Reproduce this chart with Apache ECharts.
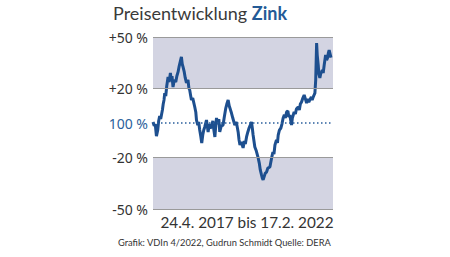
<!DOCTYPE html>
<html>
<head>
<meta charset="utf-8">
<script src="https://cdn.jsdelivr.net/npm/echarts@6/dist/echarts.min.js"></script>
<style>html,body{margin:0;padding:0;background:#fff}#c{width:450px;height:257px}</style>
</head>
<body>
<div id="c"></div>
<script>
// Days since 24.4.2017 (x) and price change in % (y)
const days = [0,12,22,34,47,56,66,76,93,101,109,116,126,136,149,160,172,180,188,198,210,225,236,248,259,269,281,289,297,309,319,331,346,355,363,373,380,393,413,423,430,443,452,462,472,482,492,502,512,529,537,545,556,566,578,592,602,612,621,628,643,651,660,675,693,705,720,730,743,754,764,776,789,809,824,842,851,860,873,891,903,913,925,938,950,962,974,982,990,997,1007,1022,1040,1051,1061,1073,1081,1089,1101,1111,1123,1136,1156,1173,1186,1196,1206,1221,1231,1238,1250,1265,1275,1287,1299,1309,1321,1334,1343,1353,1363,1370,1378,1396,1408,1418,1436,1447,1457,1469,1482,1495,1507,1519,1532,1541,1551,1566,1574,1584,1593,1601,1609,1618,1624,1634,1640,1650,1658,1667,1675,1683,1693,1700,1707,1717,1726,1734,1742,1760];
const change = [0.6,-1.7,-0.6,-7.6,-4.1,1.2,4.1,2.3,7.6,11.0,13.4,17.4,15.7,21.5,26.7,23.8,29.1,25.0,27.3,20.9,25.0,23.8,27.3,29.7,33.1,35.5,38.4,34.3,32.6,29.7,26.2,23.3,25.0,20.3,19.2,15.7,13.4,14.5,9.3,6.4,1.7,-1.2,0.6,-4.1,-7.6,-11.6,-7.0,-4.1,-2.3,1.7,-1.7,-5.2,-0.6,-2.9,-2.3,1.2,-4.1,-8.1,-1.2,2.9,-0.6,2.3,-5.2,-1.7,-1.2,3.5,8.7,11.0,13.4,9.9,8.1,5.8,2.9,-1.2,0.6,-5.2,-9.9,-12.8,-11.0,-14.5,-10.5,-12.2,-8.1,-5.2,-2.9,-1.2,0.6,-2.9,-7.0,-9.9,-14.0,-16.3,-20.3,-23.3,-27.3,-30.2,-32.0,-33.1,-30.8,-29.1,-28.5,-26.2,-25.6,-20.3,-16.9,-18.0,-12.8,-9.9,-11.6,-7.0,-4.1,-2.9,-0.6,2.9,4.7,2.9,6.4,7.0,3.5,4.7,1.2,-1.2,2.9,6.4,5.2,8.1,9.3,7.6,11.0,12.2,14.5,16.3,14.0,11.6,14.0,12.2,13.4,15.1,13.4,15.1,16.3,17.4,25.0,46.5,39.5,33.7,28.5,26.2,28.5,29.7,30.8,29.1,33.7,36.6,39.5,36.6,37.8,40.7,42.4,38.0];
const yTicks = [-50,-20,0,20,50];
const yTickLabels = ['-50 %','-20 %','100 %','+20 %','+50 %'];
const titleMain = 'Preisentwicklung ';
const titleMetal = 'Zink';
const periodText = '24.4. 2017 bis 17.2. 2022';
const sourceText = 'Grafik: VDIn 4/2022, Gudrun Schmidt Quelle: DERA';

const chart = echarts.init(document.getElementById('c'), null, {renderer:'svg'});
const font = '"Noto Sans", sans-serif';
const tfont = 'Lato, sans-serif';
chart.setOption({
  animation:false,
  backgroundColor:'#fff',
  title:[
    {text:'{a|'+titleMain+'}{b|'+titleMetal+'}', left:113, top:4, padding:0,
     textStyle:{fontWeight:'normal',rich:{a:{fontFamily:tfont,fontSize:18,fontWeight:'normal',color:'#3a3a3a'},b:{fontFamily:tfont,fontSize:18,fontWeight:'bold',color:'#245a96'}}}},
    {text:periodText, left:247, top:214, padding:0, textAlign:'center', textStyle:{fontFamily:tfont,fontSize:15.3,fontWeight:'normal',color:'#333'}},
    {text:sourceText, left:118, top:238, padding:0, textStyle:{fontFamily:tfont,fontSize:9.3,fontWeight:'normal',color:'#333'}}
  ],
  grid:{left:153,right:117,top:37,bottom:48},
  xAxis:{type:'value',min:0,max:1780,show:false},
  yAxis:{type:'value',min:-50,max:50,
    axisLine:{show:false},axisTick:{show:false},splitLine:{show:false},
    axisLabel:{customValues:yTicks,margin:5,fontFamily:font,fontSize:14,color:'#333',
      formatter:function(v){const i=yTicks.indexOf(v);return v===0?'{b|'+yTickLabels[i]+'}':yTickLabels[i];},
      rich:{b:{fontFamily:font,fontSize:14,color:'#2a5f9c'}}}},
  series:[{
    type:'line',
    data:days.map((d,i)=>[d,change[i]]),
    symbol:'none',
    lineStyle:{color:'#1d4f8f',width:3},
    markArea:{silent:true,itemStyle:{color:'#d3d4e2'},data:[[{yAxis:20},{yAxis:50}],[{yAxis:-50},{yAxis:-20}]]},
    markLine:{silent:true,symbol:'none',label:{show:false},
      data:[
        {yAxis:50,lineStyle:{color:'#9a9a9a',width:1.2,type:'solid'}},
        {yAxis:20,lineStyle:{color:'#9a9a9a',width:1.2,type:'solid'}},
        {yAxis:-20,lineStyle:{color:'#9a9a9a',width:1.2,type:'solid'}},
        {yAxis:-50,lineStyle:{color:'#9a9a9a',width:1.2,type:'solid'}},
        {yAxis:0,lineStyle:{color:'#2a5f9c',width:1.5,type:[1.5,2.5]}}
      ]}
  }]
});
</script>
</body>
</html>
